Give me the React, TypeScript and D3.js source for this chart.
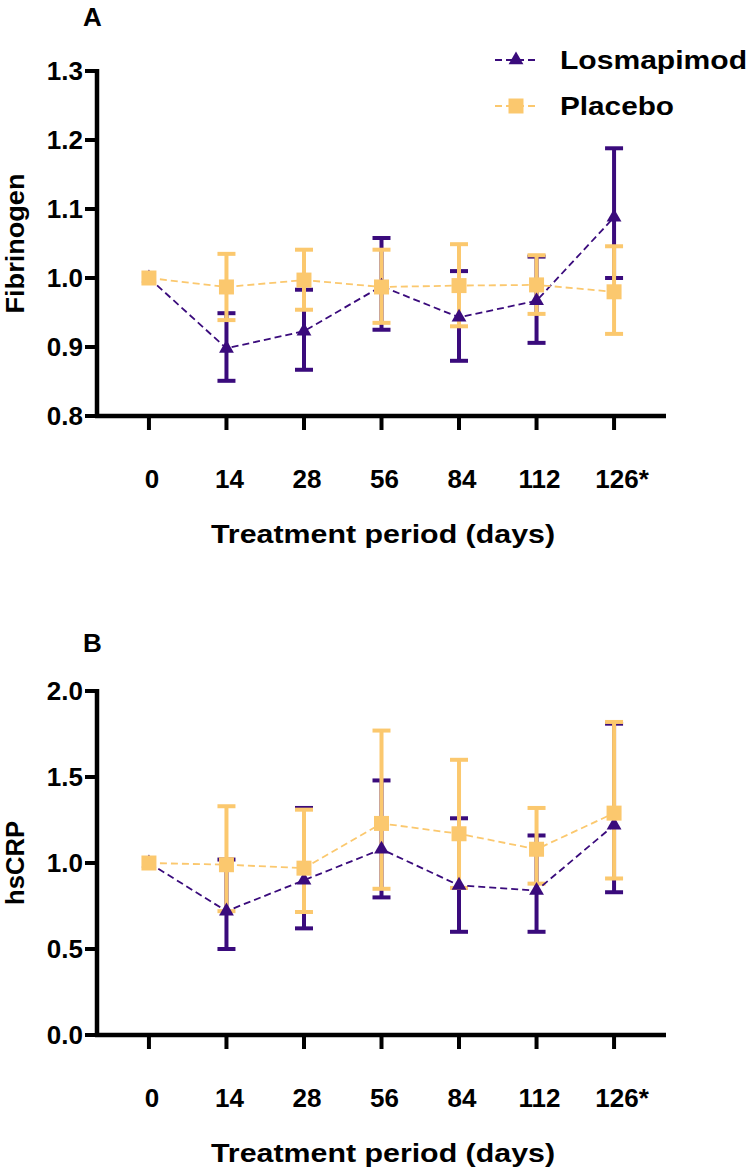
import React from "react";
import * as d3 from "d3";

const days = ["0", "14", "28", "56", "84", "112", "126*"];

const fibLosMean = [1.0, 0.898, 0.923, 0.988, 0.943, 0.967, 1.088];
const fibLosUpper = [null, 0.949, 0.983, 1.058, 1.01, 1.031, 1.188];
const fibLosLower = [null, 0.851, 0.867, 0.925, 0.88, 0.906, 1.0];
const fibPlaMean = [1.0, 0.987, 0.997, 0.987, 0.989, 0.99, 0.98];
const fibPlaUpper = [null, 1.035, 1.041, 1.041, 1.049, 1.033, 1.046];
const fibPlaLower = [null, 0.939, 0.954, 0.935, 0.93, 0.948, 0.919];

const crpLosMean = [1.0, 0.72, 0.9, 1.08, 0.87, 0.84, 1.22];
const crpLosUpper = [null, 1.02, 1.32, 1.48, 1.26, 1.16, 1.81];
const crpLosLower = [null, 0.5, 0.62, 0.8, 0.6, 0.6, 0.83];
const crpPlaMean = [1.0, 0.99, 0.97, 1.23, 1.17, 1.08, 1.29];
const crpPlaUpper = [null, 1.33, 1.31, 1.77, 1.6, 1.32, 1.82];
const crpPlaLower = [null, 0.72, 0.715, 0.85, 0.855, 0.88, 0.91];

const fibTicks = [0.8, 0.9, 1.0, 1.1, 1.2, 1.3];
const crpTicks = [0.0, 0.5, 1.0, 1.5, 2.0];

const seriesNames = ["Losmapimod", "Placebo"];

const PURPLE = "#3a0b7c";
const GOLD = "#fbc86e";
const FONT = "'Liberation Sans', Arial, Helvetica, sans-serif";

type Series = {
  name: string;
  color: string;
  shape: "triangle" | "square";
  mean: number[];
  upper: (number | null)[];
  lower: (number | null)[];
};

const triPath = d3.symbol().type(d3.symbolTriangle).size(95)() as string;
const sqPath = d3.symbol().type(d3.symbolSquare).size(225)() as string;

const legendWidths = [187, 114];

function Panel(props: {
  letter: string;
  letterY: number;
  domain: [number, number];
  ticks: number[];
  top: number;
  bottom: number;
  yTitle: string;
  yTitleLen: number;
  series: Series[];
  legend: boolean;
}) {
  const { letter, letterY, domain, ticks, top, bottom, yTitle, yTitleLen, series, legend } = props;
  const left = 97;
  const right = 666;
  const x = d3.scalePoint<string>().domain(days).range([left, right]).padding(0.67);
  const y = d3.scaleLinear().domain(domain).range([bottom, top]);
  const line = d3
    .line<number>()
    .x((_, i) => x(days[i]) as number)
    .y((d) => y(d));
  const capW = 18;

  return (
    <g fontFamily={FONT} fontWeight="bold">
      <text x={83} y={letterY} fontSize={26}>
        {letter}
      </text>
      {/* error bars */}
      {series.map((s) => (
        <g key={s.name + "eb"} stroke={s.color} strokeWidth={4} fill="none">
          {days.map((d, i) => {
            const up = s.upper[i];
            const lo = s.lower[i];
            if (up == null || lo == null) return null;
            const cx = x(d) as number;
            return (
              <g key={d}>
                <line x1={cx} x2={cx} y1={y(up)} y2={y(lo)} />
                <line x1={cx - capW / 2} x2={cx + capW / 2} y1={y(up)} y2={y(up)} />
                <line x1={cx - capW / 2} x2={cx + capW / 2} y1={y(lo)} y2={y(lo)} />
              </g>
            );
          })}
        </g>
      ))}
      {/* lines */}
      {series.map((s) => (
        <path
          key={s.name + "ln"}
          d={line(s.mean) as string}
          fill="none"
          stroke={s.color}
          strokeWidth={1.8}
          strokeDasharray="7,4"
        />
      ))}
      {/* markers */}
      {series.map((s) => (
        <g key={s.name + "mk"} fill={s.color}>
          {s.mean.map((v, i) => (
            <path
              key={i}
              d={s.shape === "triangle" ? triPath : sqPath}
              transform={`translate(${x(days[i])},${y(v)})`}
            />
          ))}
        </g>
      ))}
      {/* axes */}
      <line x1={left} x2={left} y1={top - 2} y2={bottom + 2} stroke="#000" strokeWidth={4.5} />
      <line x1={left - 2} x2={right} y1={bottom} y2={bottom} stroke="#000" strokeWidth={4.5} />
      {ticks.map((t) => (
        <g key={t}>
          <line x1={left - 12} x2={left} y1={y(t)} y2={y(t)} stroke="#000" strokeWidth={4} />
          <text x={83} y={y(t)} dy="0.36em" textAnchor="end" fontSize={26}>
            {t.toFixed(1)}
          </text>
        </g>
      ))}
      {days.map((d) => {
        const cx = x(d) as number;
        const star = d.endsWith("*");
        return (
          <g key={d}>
            <line x1={cx} x2={cx} y1={bottom} y2={bottom + 14} stroke="#000" strokeWidth={4} />
            <text x={cx + 3 + (star ? 5 : 0)} y={bottom + 72} textAnchor="middle" fontSize={26}>
              {d}
            </text>
          </g>
        );
      })}
      <text
        x={383}
        y={bottom + 127}
        textAnchor="middle"
        fontSize={26}
        textLength={344}
        lengthAdjust="spacingAndGlyphs"
      >
        Treatment period (days)
      </text>
      <text
        transform={`translate(24,${(top + bottom) / 2}) rotate(-90)`}
        textAnchor="middle"
        fontSize={26}
        textLength={yTitleLen}
        lengthAdjust="spacingAndGlyphs"
      >
        {yTitle}
      </text>
      {legend &&
        series.map((s, i) => {
          const ly = 60 + i * 46;
          return (
            <g key={s.name + "lg"}>
              <line
                x1={495}
                x2={537}
                y1={ly}
                y2={ly}
                stroke={s.color}
                strokeWidth={1.8}
                strokeDasharray="7,4"
              />
              <path
                d={s.shape === "triangle" ? triPath : sqPath}
                transform={`translate(516,${ly})`}
                fill={s.color}
              />
              <text
                x={560}
                y={ly}
                dy="0.36em"
                fontSize={26}
                textLength={legendWidths[i]}
                lengthAdjust="spacingAndGlyphs"
              >
                {s.name}
              </text>
            </g>
          );
        })}
    </g>
  );
}

export default function App() {
  const fibSeries: Series[] = [
    { name: seriesNames[0], color: PURPLE, shape: "triangle", mean: fibLosMean, upper: fibLosUpper, lower: fibLosLower },
    { name: seriesNames[1], color: GOLD, shape: "square", mean: fibPlaMean, upper: fibPlaUpper, lower: fibPlaLower },
  ];
  const crpSeries: Series[] = [
    { name: seriesNames[0], color: PURPLE, shape: "triangle", mean: crpLosMean, upper: crpLosUpper, lower: crpLosLower },
    { name: seriesNames[1], color: GOLD, shape: "square", mean: crpPlaMean, upper: crpPlaUpper, lower: crpPlaLower },
  ];
  return (
    <svg
      width={750}
      height={1169}
      style={{ position: "absolute", left: 0, top: 0, background: "#fff" }}
    >
      <rect width={750} height={1169} fill="#fff" />
      <Panel
        letter="A"
        letterY={26}
        domain={[0.8, 1.3]}
        ticks={fibTicks}
        top={71}
        bottom={416}
        yTitle="Fibrinogen"
        yTitleLen={140}
        series={fibSeries}
        legend={true}
      />
      <Panel
        letter="B"
        letterY={652}
        domain={[0, 2]}
        ticks={crpTicks}
        top={691}
        bottom={1035}
        yTitle="hsCRP"
        yTitleLen={84}
        series={crpSeries}
        legend={false}
      />
    </svg>
  );
}
